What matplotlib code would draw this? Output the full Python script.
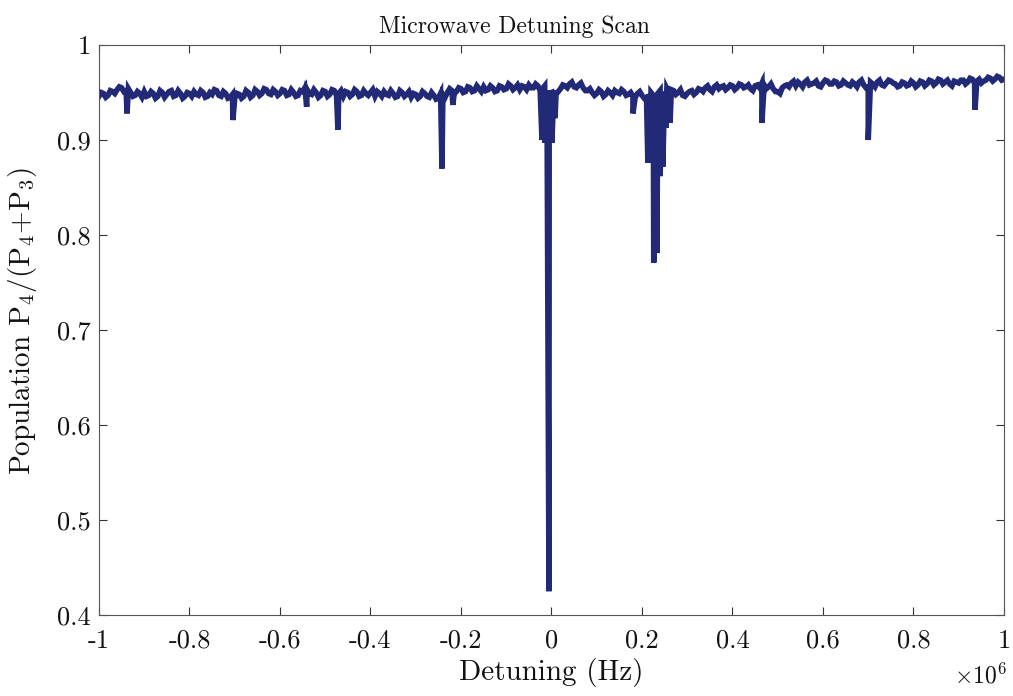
import numpy as np
import matplotlib
matplotlib.use("Agg")
import matplotlib.pyplot as plt

plt.rcParams["mathtext.fontset"] = "cm"
plt.rcParams["axes.unicode_minus"] = False

# Background scan: coarse grid points (every 10 kHz) and the samples between them
detuning_khz = np.arange(-1000, 1001, 10)
detuning_mid_khz = np.arange(-995, 996, 10)

baseline_pop = [
    0.946, 0.949, 0.947, 0.951, 0.953, 0.955, 0.952, 0.950, 0.947, 0.949,
    0.951, 0.947, 0.949, 0.946, 0.950, 0.948, 0.952, 0.947, 0.949, 0.946,
    0.949, 0.951, 0.947, 0.950, 0.946, 0.948, 0.952, 0.946, 0.949, 0.945,
    0.944, 0.948, 0.946, 0.950, 0.947, 0.951, 0.949, 0.953, 0.948, 0.951,
    0.949, 0.952, 0.948, 0.950, 0.947, 0.951, 0.953, 0.948, 0.950, 0.947,
    0.951, 0.948, 0.952, 0.949, 0.946, 0.950, 0.948, 0.951, 0.947, 0.949,
    0.950, 0.946, 0.949, 0.951, 0.947, 0.949, 0.946, 0.950, 0.948, 0.945,
    0.948, 0.946, 0.949, 0.945, 0.947, 0.944, 0.948, 0.950, 0.952, 0.951,
    0.954, 0.951, 0.955, 0.952, 0.954, 0.956, 0.953, 0.955, 0.952, 0.956,
    0.954, 0.957, 0.955, 0.953, 0.956, 0.958, 0.955, 0.957, 0.954, 0.952,
    0.950, 0.948, 0.954, 0.957, 0.959, 0.956, 0.958, 0.955, 0.952, 0.950,
    0.949, 0.951, 0.948, 0.950, 0.952, 0.949, 0.951, 0.948, 0.946, 0.949,
    0.947, 0.945, 0.950, 0.946, 0.952, 0.951, 0.949, 0.952, 0.950, 0.947,
    0.949, 0.952, 0.950, 0.953, 0.955, 0.953, 0.956, 0.954, 0.957, 0.955,
    0.957, 0.955, 0.958, 0.956, 0.954, 0.957, 0.955, 0.958, 0.956, 0.954,
    0.951, 0.955, 0.958, 0.960, 0.957, 0.959, 0.961, 0.958, 0.960, 0.957,
    0.960, 0.962, 0.959, 0.961, 0.958, 0.960, 0.957, 0.959, 0.961, 0.958,
    0.956, 0.959, 0.961, 0.958, 0.960, 0.962, 0.959, 0.957, 0.960, 0.958,
    0.960, 0.958, 0.961, 0.959, 0.962, 0.960, 0.963, 0.961, 0.959, 0.962,
    0.960, 0.963, 0.961, 0.964, 0.962, 0.960, 0.963, 0.965, 0.964, 0.966,
    0.964,
]

baseline_mid_pop = [
    0.950, 0.945, 0.952, 0.949, 0.956, 0.951, 0.954, 0.946, 0.951, 0.945,
    0.946, 0.951, 0.944, 0.952, 0.945, 0.951, 0.946, 0.952, 0.944, 0.950,
    0.946, 0.948, 0.952, 0.945, 0.950, 0.953, 0.947, 0.951, 0.944, 0.948,
    0.949, 0.944, 0.952, 0.945, 0.953, 0.947, 0.954, 0.949, 0.953, 0.947,
    0.953, 0.947, 0.953, 0.946, 0.952, 0.955, 0.949, 0.953, 0.945, 0.952,
    0.946, 0.953, 0.947, 0.952, 0.951, 0.946, 0.953, 0.946, 0.952, 0.947,
    0.953, 0.951, 0.946, 0.948, 0.952, 0.945, 0.952, 0.946, 0.951, 0.949,
    0.944, 0.951, 0.946, 0.950, 0.943, 0.949, 0.945, 0.954, 0.949, 0.955,
    0.950, 0.956, 0.951, 0.957, 0.951, 0.952, 0.957, 0.951, 0.957, 0.953,
    0.959, 0.953, 0.958, 0.957, 0.953, 0.955, 0.959, 0.952, 0.957, 0.949,
    0.952, 0.951, 0.958, 0.955, 0.961, 0.955, 0.960, 0.952, 0.954, 0.947,
    0.953, 0.946, 0.952, 0.947, 0.950, 0.953, 0.947, 0.950, 0.945, 0.951,
    0.944, 0.948, 0.947, 0.949, 0.947, 0.954, 0.953, 0.948, 0.953, 0.946,
    0.951, 0.948, 0.954, 0.951, 0.957, 0.951, 0.958, 0.956, 0.953, 0.958,
    0.953, 0.959, 0.955, 0.958, 0.952, 0.958, 0.960, 0.954, 0.959, 0.951,
    0.949, 0.957, 0.956, 0.962, 0.961, 0.956, 0.963, 0.959, 0.962, 0.956,
    0.963, 0.959, 0.962, 0.957, 0.962, 0.958, 0.961, 0.956, 0.963, 0.955,
    0.961, 0.956, 0.963, 0.957, 0.963, 0.960, 0.956, 0.961, 0.957, 0.962,
    0.956, 0.962, 0.957, 0.963, 0.958, 0.964, 0.959, 0.963, 0.957, 0.961,
    0.963, 0.959, 0.965, 0.960, 0.964, 0.962, 0.966, 0.962, 0.967, 0.963,
]

# Resonance samples (detuning in kHz, population ratio)
dip_khz = [-938, -704, -541, -472, -242, -218,
           -21, -14, -5.5, 1, 8,
           180, 213, 219, 226, 233, 240, 246, 253, 262,
           465, 700, 936]
dip_pop = [0.928, 0.921, 0.935, 0.911, 0.870, 0.937,
           0.900, 0.897, 0.425, 0.897, 0.923,
           0.928, 0.876, 0.880, 0.771, 0.781, 0.862, 0.872, 0.913, 0.918,
           0.918, 0.900, 0.932]

x_ticks = [-1.0, -0.8, -0.6, -0.4, -0.2, 0.0, 0.2, 0.4, 0.6, 0.8, 1.0]
x_tick_labels = ["-1", "-0.8", "-0.6", "-0.4", "-0.2", "0", "0.2", "0.4", "0.6", "0.8", "1"]
y_ticks = [0.4, 0.5, 0.6, 0.7, 0.8, 0.9, 1.0]
y_tick_labels = ["0.4", "0.5", "0.6", "0.7", "0.8", "0.9", "1"]

# Merge all samples into one sweep ordered by detuning (plotted in units of 1e6 Hz)
x_all = np.concatenate([detuning_khz.astype(float),
                        detuning_mid_khz.astype(float),
                        np.asarray(dip_khz, float)])
y_all = np.concatenate([np.asarray(baseline_pop),
                        np.asarray(baseline_mid_pop),
                        np.asarray(dip_pop)])
order = np.argsort(x_all, kind="stable")
x_all = x_all[order] / 1e3
y_all = y_all[order]

fig = plt.figure(figsize=(10.13, 6.96), dpi=100)
ax = fig.add_axes([0.0977, 0.1164, 0.8934, 0.8189])

ax.plot(x_all, y_all, color="#222a78", linewidth=4.0, solid_joinstyle="miter")

ax.set_xlim(-1, 1)
ax.set_ylim(0.4, 1.0)
ax.set_xticks(x_ticks)
ax.set_xticklabels(x_tick_labels)
ax.set_yticks(y_ticks)
ax.set_yticklabels(y_tick_labels)

serif = "cmr10"
for lab in ax.get_xticklabels() + ax.get_yticklabels():
    lab.set_fontfamily(serif)
    lab.set_fontsize(19)

ax.tick_params(direction="in", length=6, width=0.8, top=True, right=True,
               colors="#333333", labelcolor="#111111")
ax.tick_params(axis="x", pad=10)
ax.tick_params(axis="y", pad=6)
for s in ax.spines.values():
    s.set_linewidth(0.8)
    s.set_color("#555555")

ax.text(0.4586, 1.012, "Microwave Detuning Scan", transform=ax.transAxes,
        ha="center", va="bottom", fontfamily=serif, fontsize=17, color="#111111")
ax.set_xlabel("Detuning (Hz)", fontfamily=serif, fontsize=21, labelpad=4, color="#111111")
ax.set_ylabel("Population P$_4$/(P$_4$+P$_3$)", fontfamily=serif, fontsize=21, color="#111111")
ax.yaxis.set_label_coords(-0.066, 0.516)
ax.text(1.003, -0.084, r"$\times 10^{6}$", transform=ax.transAxes, ha="right", va="top",
        fontsize=17, color="#111111")

fig.savefig("out.png", dpi=100)
